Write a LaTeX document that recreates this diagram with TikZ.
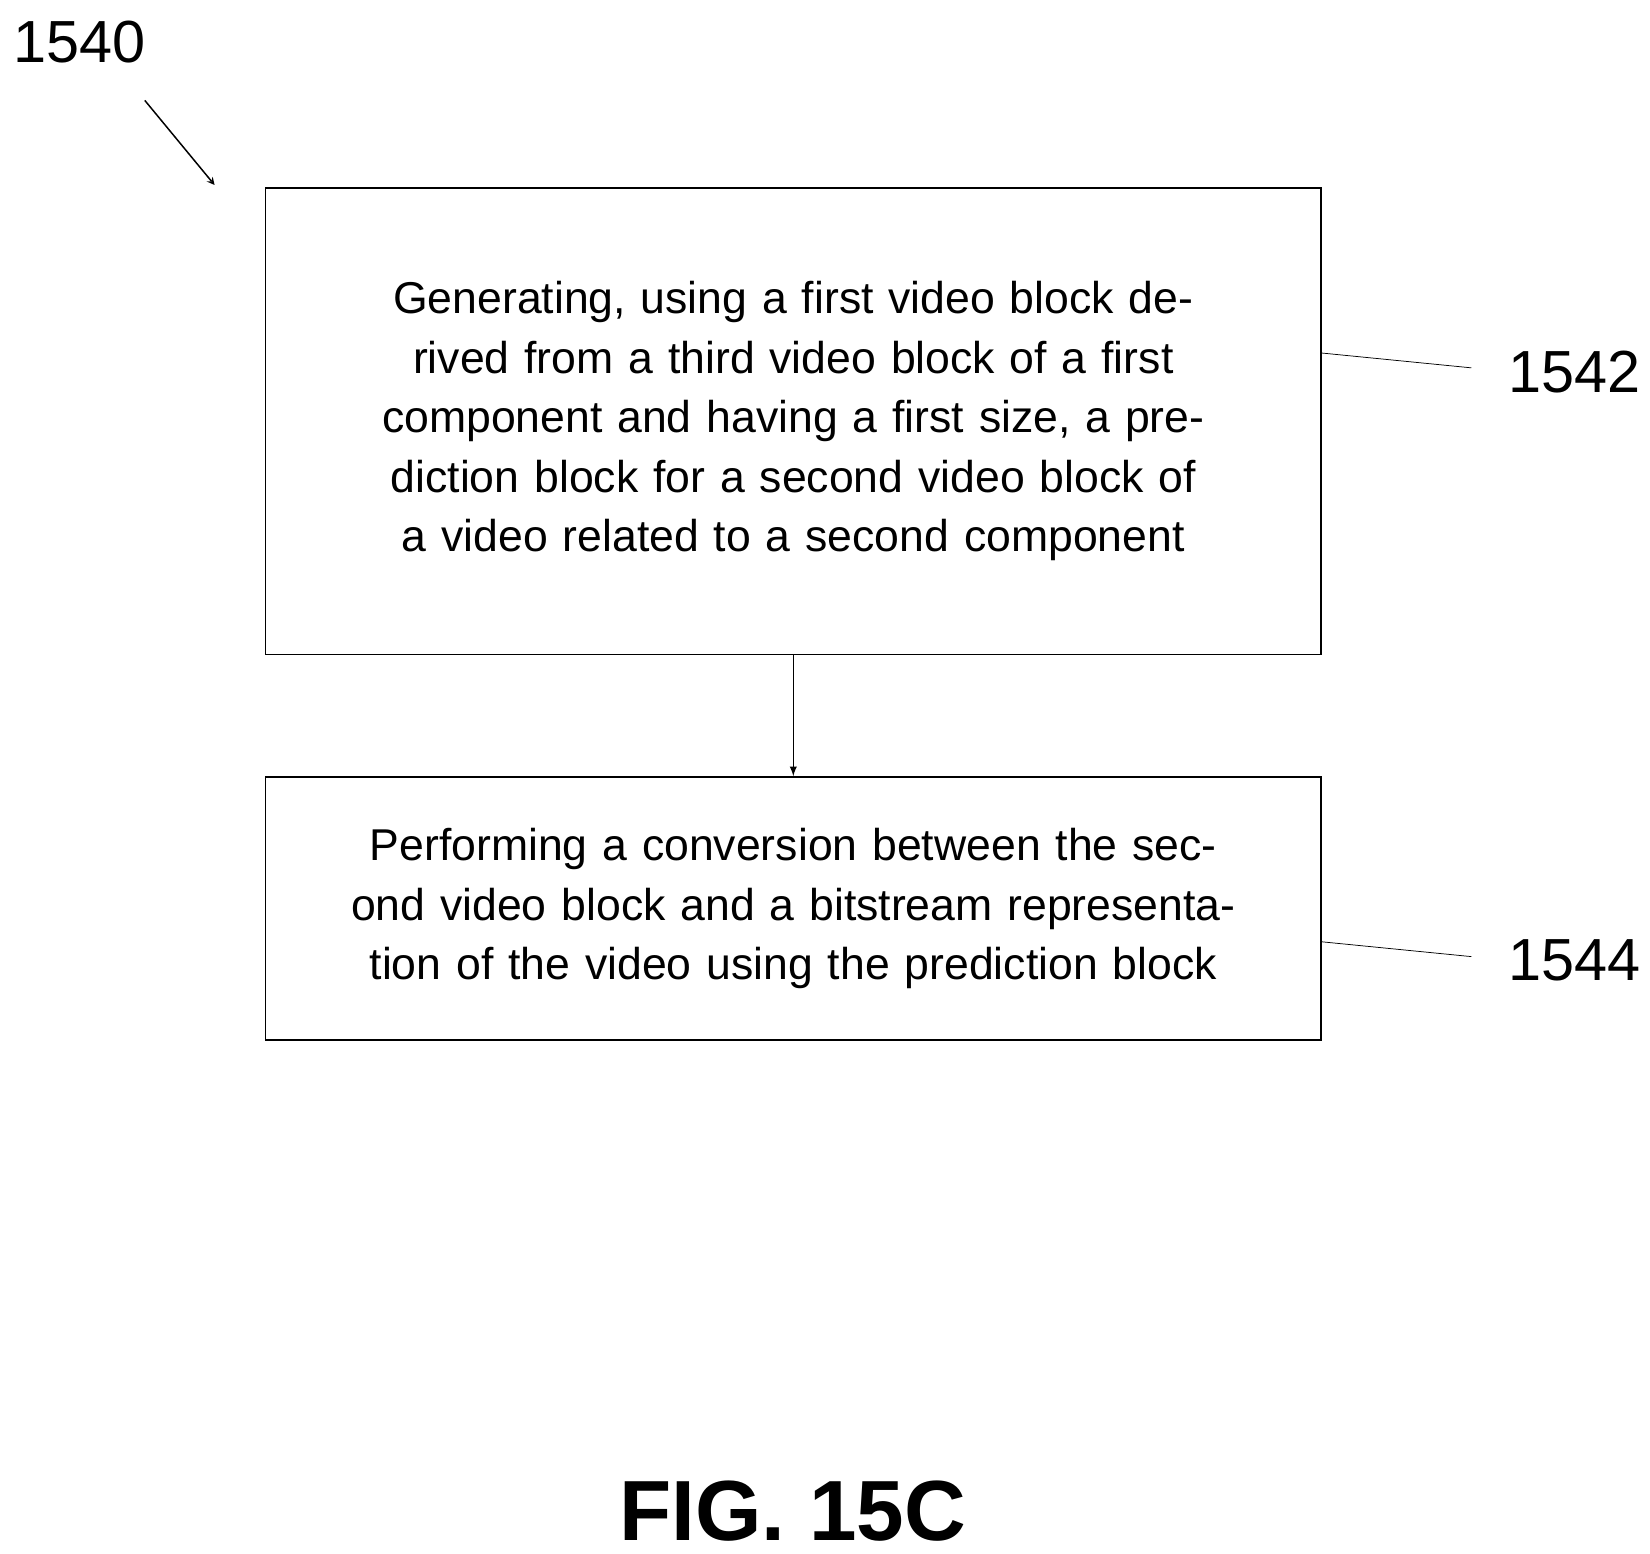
\documentclass[tikz,border=0pt]{standalone}
\usepackage{fontspec}
\setmainfont{Liberation Sans}
\begin{document}
\begin{tikzpicture}[x=0.02cm,y=-0.02cm,
task/.style={%
draw,
thick,
align=center,
text width=18.9cm,
minimum width=19.98cm,
font=\fontsize{24}{32}\selectfont
},
ref/.style={%
font=\fontsize{32}{38}\selectfont
},
]
\useasboundingbox(0,0)rectangle(1561,1470);
%% Boxes
\node[task,minimum height=8.82cm](gen)at(750.5,398.5){Generating, using a first video block derived from a third video block of a first component and having a first size, a prediction block for a second video block of a video related to a second component};
\node[task,minimum height=4.98cm](conv)at(750.5,859.5){Performing a conversion between the second video block and a bitstream representation of the video using the prediction block};
\draw[thick,-latex](gen.south)--(conv.north);
%% Labels
\node[ref](l1540)at(75,40){1540};
\coordinate(a1)at(137,95);
\coordinate(a2)at(203,175);
\draw[thick,-stealth](a1)--(a2);
\node[ref](l1542)at(1490,352){1542};
\draw(gen.east|-0,334)--(1392,348);
\node[ref](l1544)at(1490,909){1544};
\draw(conv.east|-0,891)--(1392,905);
\node[font=\fontsize{46}{50}\selectfont\bfseries](fig)at(750,1430){FIG. 15C};
\end{tikzpicture}
\end{document}
